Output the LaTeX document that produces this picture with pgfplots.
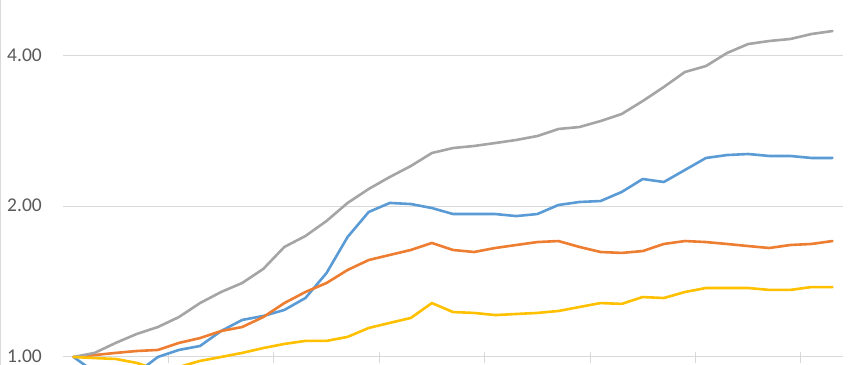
\documentclass[border=0pt]{standalone}
\usepackage{pgfplots}
\pgfplotsset{compat=1.18}
\usepackage{pgfplotstable}
\usepackage{fontspec}
\setmainfont{Carlito}
\definecolor{cblue}{HTML}{5B9BD5}
\definecolor{corange}{HTML}{ED7D31}
\definecolor{cgray}{HTML}{A5A5A5}
\definecolor{cyellow}{HTML}{FFC000}
\definecolor{gridc}{HTML}{D9D9D9}
\definecolor{labc}{HTML}{595959}

\pgfplotstableread{
i  blue   orange  gray   yellow
0  1.000  1.000  1.000  1.000
1  0.933  1.009  1.019  0.995
2  0.908  1.019  1.067  0.991
3  0.929  1.028  1.112  0.973
4  1.000  1.033  1.148  0.942
5  1.033  1.067  1.202  0.955
6  1.052  1.091  1.282  0.982
7  1.127  1.127  1.349  1.000
8  1.186  1.148  1.406  1.019
9  1.208  1.202  1.500  1.042
10 1.242  1.282  1.660  1.062
11 1.312  1.349  1.746  1.077
12 1.472  1.406  1.871  1.077
13 1.738  1.493  2.033  1.097
14 1.950  1.563  2.168  1.143
15 2.033  1.600  2.291  1.170
16 2.023  1.637  2.410  1.197
17 1.986  1.691  2.559  1.282
18 1.932  1.637  2.618  1.230
19 1.932  1.622  2.643  1.225
20 1.932  1.652  2.679  1.213
21 1.914  1.675  2.717  1.219
22 1.932  1.698  2.767  1.225
23 2.014  1.706  2.858  1.236
24 2.042  1.660  2.884  1.259
25 2.051  1.622  2.965  1.282
26 2.138  1.615  3.062  1.277
27 2.270  1.629  3.251  1.318
28 2.239  1.683  3.468  1.312
29 2.366  1.706  3.716  1.349
30 2.501  1.698  3.820  1.374
31 2.535  1.683  4.056  1.374
32 2.547  1.667  4.227  1.374
33 2.524  1.652  4.286  1.362
34 2.524  1.675  4.326  1.362
35 2.501  1.683  4.426  1.380
36 2.501  1.706  4.488  1.380
}\datatable

\begin{document}
\begin{tikzpicture}
\useasboundingbox (0,0) rectangle (857bp,365bp);
\draw[gridc, line width=1.2bp] (0.8bp,0) -- (0.8bp,365bp);
\begin{axis}[
  at={(63bp,0bp)}, anchor=south west,
  scale only axis, width=780bp, height=365bp,
  xmin=-0.5, xmax=36.5,
  ymode=log, log basis y=2,
  ymin=0.9638, ymax=5.177,
  axis line style={draw=none},
  xtick=\empty,
  ytick={1,2,4},
  yticklabels={1.00,2.00,4.00},
  major tick length=0pt,
  tick style={draw=none},
  ymajorgrids,
  grid style={gridc, line width=1bp},
  /pgf/number format/assume math mode=true,
  yticklabel style={font=\fontsize{19.5bp}{20bp}\selectfont, text=labc, anchor=east, inner sep=0pt, xshift=-21bp, yshift=1bp},
  every axis plot/.append style={line width=2.6bp, line join=round, line cap=round},
]
\foreach \t in {4.5,9.5,14.5,19.5,24.5,29.5,34.5}{
  \edef\tmp{\noexpand\draw[gridc, line width=1bp] ([yshift=5bp]axis cs:\t,1) -- ([yshift=-6bp]axis cs:\t,1);}
  \tmp
}
\addplot[cblue] table[x=i, y=blue] {\datatable};
\addplot[corange] table[x=i, y=orange] {\datatable};
\addplot[cgray] table[x=i, y=gray] {\datatable};
\addplot[cyellow] table[x=i, y=yellow] {\datatable};
\end{axis}
\end{tikzpicture}
\end{document}
